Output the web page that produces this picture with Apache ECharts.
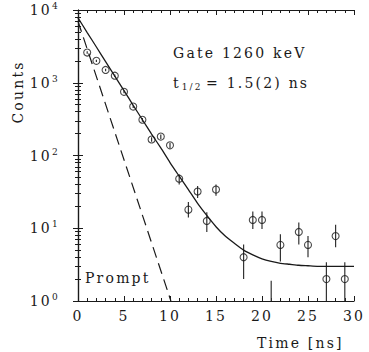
<!DOCTYPE html>
<html>
<head>
<meta charset="utf-8">
<script src="https://cdn.jsdelivr.net/npm/echarts@6/dist/echarts.min.js"></script>
<style>
  html, body { margin: 0; padding: 0; background: #fff; }
  #chart { width: 369px; height: 352px; }
  #chart text { letter-spacing: 2.2px; }
</style>
</head>
<body>
<div id="chart"></div>
<script>
// measured decay points (time in ns, counts) with error bar ends
const times   = [1, 2, 3, 4, 5, 6, 7, 8, 9, 10, 11, 12, 13, 14, 15, 18, 19, 20, 21, 22, 24, 25, 27, 28, 29]
const counts  = [2600, 2000, 1500, 1250, 750, 470, 310, 166, 182, 138, 48, 18, 32, 12.6, 34, 4, 13, 13, 0.5, 5.9, 8.9, 5.9, 2, 7.8, 2]
const errLow  = [2500, 1930, 1440, 1200, 720, 450, 292, 154, 169, 126, 40, 14, 26, 8.9, 28, 2, 9.8, 9.8, 0.1, 3.5, 6, 4, 0.6, 5.5, 0.6]
const errHigh = [2700, 2070, 1560, 1300, 780, 490, 328, 178, 195, 150, 55, 23, 38, 16.6, 40, 6, 17, 17, 1.9, 8.3, 12, 7.8, 3.4, 11.2, 3.4]

// fitted curve
const fitTimes  = [0, 1, 2, 3, 4, 5, 6, 7, 8, 9, 10, 11, 12, 13, 14, 15, 16, 17, 18, 19, 20, 21, 22, 23, 24, 25, 26, 27, 28, 29, 30]
const fitCounts = [7800, 4900, 3100, 1950, 1230, 780, 490, 310, 197, 127, 80, 52, 34, 22, 15, 10.5, 7.8, 6.2, 5.0, 4.3, 3.8, 3.5, 3.3, 3.2, 3.1, 3.05, 3.0, 3.0, 3.0, 3.0, 3.0]

// prompt response (dashed)
const promptTimes  = [0, 10.1]
const promptCounts = [7000, 1]

const xTicks = [0, 5, 10, 15, 20, 25, 30]
const decadeExponents = ["0", "1", "2", "3", "4"]

const font = "DejaVu Serif"
const ink = "#1a1a1a"

const chart = echarts.init(document.getElementById("chart"), null, { renderer: "svg" })

const axisLine = { show: true, lineStyle: { color: ink, width: 1.2 } }
const axisTick = { show: true, inside: true, length: 5, lineStyle: { color: ink, width: 1 } }

chart.setOption({
  animation: false,
  backgroundColor: "#fff",
  grid: { left: 78, right: 15, top: 10, bottom: 51 },
  xAxis: [
    {
      type: "value",
      position: "bottom",
      min: xTicks[0],
      max: xTicks[xTicks.length - 1],
      interval: 5,
      axisLine,
      axisTick,
      minorTick: { show: true, splitNumber: 5, length: 3, lineStyle: { color: ink, width: 1 } },
      splitLine: { show: false },
      axisLabel: { color: ink, fontFamily: font, fontSize: 14, margin: 8 },
    },
    {
      type: "value",
      position: "top",
      min: 0,
      max: 30,
      interval: 5,
      axisLine,
      axisTick,
      minorTick: { show: true, splitNumber: 5, length: 3, lineStyle: { color: ink, width: 1 } },
      splitLine: { show: false },
      axisLabel: { show: false },
    },
  ],
  yAxis: [
    {
      type: "log",
      logBase: 10,
      position: "left",
      min: 1,
      max: 10000,
      axisLine,
      axisTick,
      minorTick: { show: true, splitNumber: 9, length: 3, lineStyle: { color: ink, width: 1 } },
      splitLine: { show: false },
      axisLabel: {
        margin: 16,
        formatter: (v) => `{b|10}{s|${decadeExponents[Math.round(Math.log10(v))]}}`,
        rich: {
          b: { color: ink, fontFamily: font, fontSize: 14, padding: [0, 2.3, 0, 0] },
          s: { color: ink, fontFamily: font, fontSize: 9, padding: [0, 2, 8, 0] },
        },
      },
    },
    {
      type: "log",
      logBase: 10,
      position: "right",
      min: 1,
      max: 10000,
      axisLine,
      axisTick,
      minorTick: { show: true, splitNumber: 9, length: 3, lineStyle: { color: ink, width: 1 } },
      splitLine: { show: false },
      axisLabel: { show: false },
    },
  ],
  graphic: [
    {
      type: "text",
      x: 18,
      y: 92,
      rotation: Math.PI / 2,
      style: { text: "Counts", font: `14px "${font}"`, fill: ink, align: "center", verticalAlign: "middle" },
    },
    {
      type: "text",
      x: 257,
      y: 343,
      style: { text: "Time [ns]", font: `14px "${font}"`, fill: ink, align: "left", verticalAlign: "middle" },
    },
    {
      type: "text",
      x: 173,
      y: 53,
      style: { text: "Gate 1260 keV", font: `14px "${font}"`, fill: ink, align: "left", verticalAlign: "middle" },
    },
    {
      type: "text",
      x: 173,
      y: 83,
      style: {
        text: "{a|t}{s|1/2}{c|= 1.5(2) ns}",
        align: "left",
        verticalAlign: "middle",
        rich: {
          a: { fontFamily: font, fontSize: 14, fill: ink, padding: [0, 3, 0, 0] },
          s: { fontFamily: font, fontSize: 9, fill: ink, padding: [8, 10, 0, 0] },
          c: { fontFamily: font, fontSize: 14, fill: ink },
        },
      },
    },
    {
      type: "text",
      x: 85,
      y: 278,
      style: { text: "Prompt", font: `14px "${font}"`, fill: ink, align: "left", verticalAlign: "middle" },
    },
  ],
  series: [
    {
      name: "fit",
      type: "line",
      data: fitTimes.map((t, i) => [t, fitCounts[i]]),
      showSymbol: false,
      smooth: 0.2,
      lineStyle: { color: ink, width: 1.3 },
      clip: true,
    },
    {
      name: "prompt",
      type: "line",
      data: promptTimes.map((t, i) => [t, promptCounts[i]]),
      showSymbol: false,
      lineStyle: { color: ink, width: 1.2, type: [11, 6] },
      clip: true,
    },
    {
      name: "errors",
      type: "custom",
      data: times.map((t, i) => [t, errLow[i], errHigh[i]]),
      encode: { x: 0, y: [1, 2] },
      clip: true,
      renderItem: (params, api) => {
        const lo = api.coord([api.value(0), api.value(1)])
        const hi = api.coord([api.value(0), api.value(2)])
        return {
          type: "line",
          shape: { x1: lo[0], y1: lo[1], x2: hi[0], y2: hi[1] },
          style: { stroke: "#333", lineWidth: 1.2 },
        }
      },
    },
    {
      name: "data",
      type: "scatter",
      data: times.map((t, i) => [t, counts[i]]),
      symbol: "circle",
      symbolSize: 7,
      itemStyle: { color: "rgba(0,0,0,0)", borderColor: ink, borderWidth: 1.1 },
      clip: true,
    },
  ],
})
</script>
</body>
</html>
